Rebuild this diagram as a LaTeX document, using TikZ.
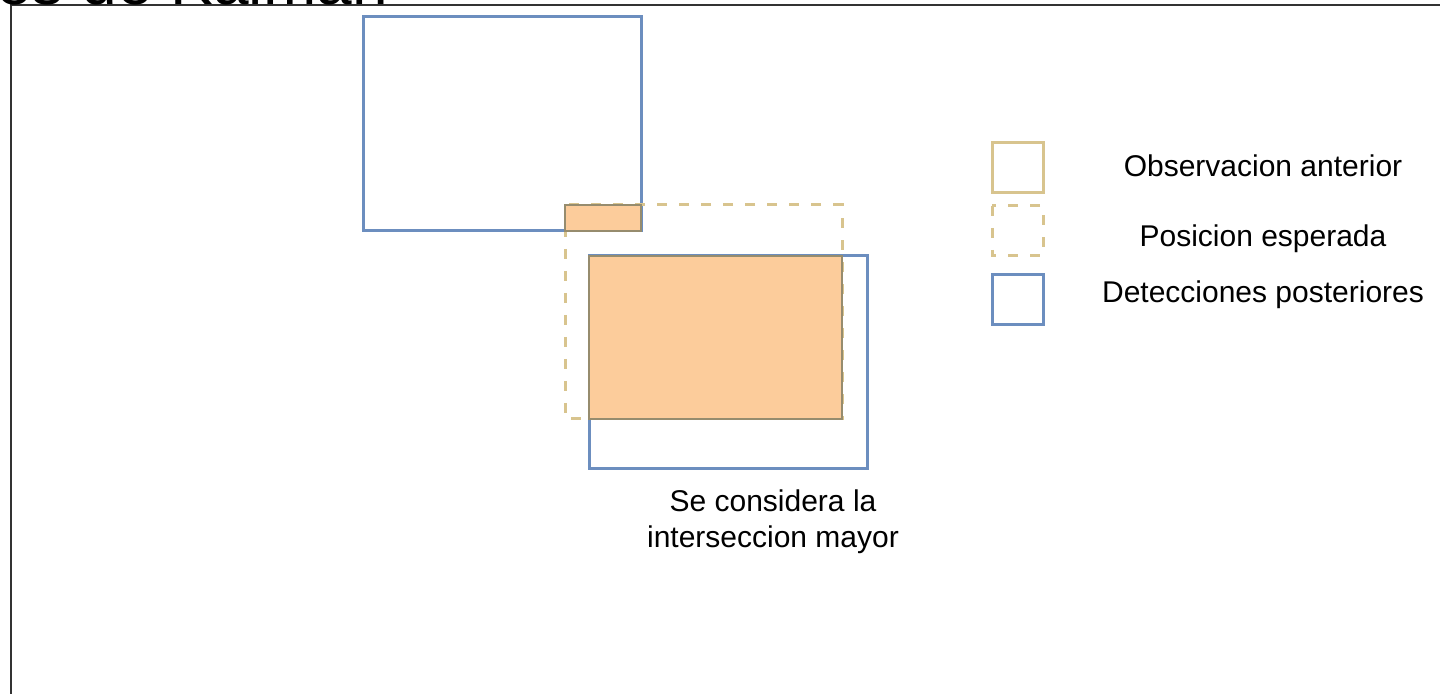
\documentclass[tikz,border=0pt]{standalone}
\usepackage{fontspec}
\setmainfont{Liberation Sans}
\usepackage{xcolor}
\usetikzlibrary{positioning}

\definecolor{boxblue}{RGB}{108,142,191}
\definecolor{boxtan}{RGB}{216,196,142}
\definecolor{hitorange}{RGB}{252,204,155}
\definecolor{hitedge}{RGB}{150,140,110}

\begin{document}
\begin{tikzpicture}[
  x=0.5pt, y=-0.5pt,
  detbox/.style={draw=boxblue, line width=1.5pt},
  obsbox/.style={draw=boxtan, line width=1.5pt},
  predbox/.style={obsbox, dash pattern=on 5pt off 6pt},
  hitbox/.style={fill=hitorange, draw=hitedge, line width=0.6pt},
  lbl/.style={anchor=base, font=\fontsize{15}{18}\selectfont},
  title/.style={anchor=base west, inner sep=0pt, font=\fontsize{32}{38}\selectfont}
]
  \useasboundingbox (0,0) rectangle (1440,694);
  \fill[white] (0,0) rectangle (1440,694);

  % slide frame and cut title
  \draw[black!80, line width=1pt] (11,694) |- (1440,5);
  \node[title] (titulo) at (-4,5) {es de Kalman};

  % boxes
  \draw[detbox] (363,17) rectangle (641,231);
  \draw[predbox] (565,205) rectangle (842,419);
  \draw[detbox] (589,256) rectangle (867,469);

  % intersections
  \draw[hitbox] (565,205) rectangle (641,231);
  \draw[hitbox] (589,256) rectangle (842,419);

  \node[lbl, align=center] (nota) at (773,548)
    {Se considera la\\interseccion mayor};

  % legend
  \draw[obsbox] (992,143) rectangle (1043,193);
  \draw[predbox] (992,206) rectangle (1043,256);
  \draw[detbox] (992,275) rectangle (1043,325);
  \node[lbl] (obs) at (1263,177) {Observacion anterior};
  \node[lbl] (pred) at (1263,247) {Posicion esperada};
  \node[lbl] (det) at (1263,303) {Detecciones posteriores};
\end{tikzpicture}
\end{document}
